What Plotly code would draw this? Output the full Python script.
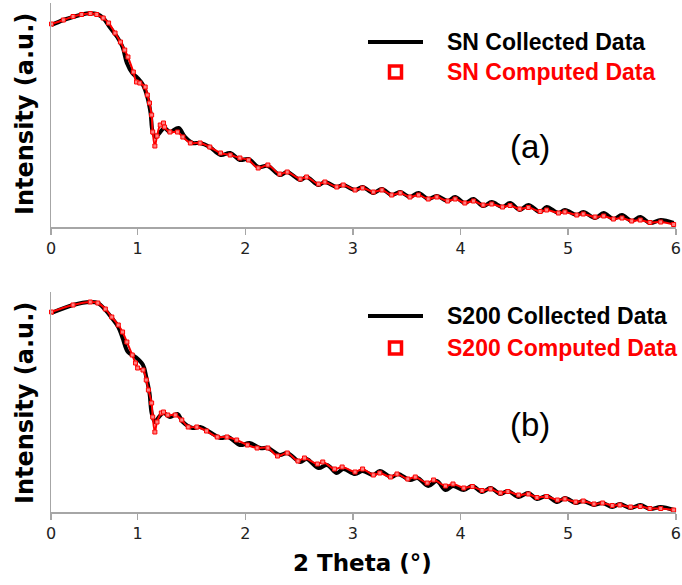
import plotly.graph_objects as go
from plotly.subplots import make_subplots

# ---- panel (a): SN ----
sn_col_x = [0.20, 0.31, 0.40, 0.48, 0.56, 0.62, 0.68, 0.74, 0.81, 0.86, 0.90, 0.95, 1.00, 1.05, 1.09, 1.12,
            1.14, 1.17, 1.21, 1.25, 1.30, 1.38, 1.44, 1.51, 1.58, 1.67, 1.77, 1.86, 1.95, 2.03, 2.12, 2.21,
            2.32, 2.39, 2.51, 2.57, 2.68, 2.74, 2.85, 2.91, 3.02, 3.09, 3.19, 3.27, 3.36, 3.44, 3.53, 3.61,
            3.70, 3.78, 3.88, 3.95, 4.04, 4.12, 4.21, 4.29, 4.39, 4.46, 4.55, 4.63, 4.74, 4.80, 4.91, 4.97,
            5.08, 5.14, 5.25, 5.33, 5.42, 5.50, 5.59, 5.67, 5.76, 5.86, 5.98]
sn_col_y = [202, 207, 210, 212.5, 213.7, 213, 209, 200, 190, 180, 164, 154, 149, 142, 130, 114,
            95, 90, 95, 99, 95, 99, 90, 84, 84, 80, 72, 74, 67, 68, 60, 61,
            52, 55, 47, 50, 42, 45, 40, 42, 37, 40, 34, 38, 32, 35, 30, 34,
            28, 31, 26, 30, 24, 28, 21, 25, 20, 24, 17, 22, 15, 20, 14, 17,
            12, 15, 9, 14, 8, 12, 6, 10, 4, 7, 4]

sn_cmp_x = [0.20, 0.31, 0.40, 0.48, 0.56, 0.62, 0.68, 0.73, 0.79, 0.84, 0.88, 0.91, 0.96, 0.99, 1.02, 1.07,
            1.09, 1.11, 1.13, 1.14, 1.16, 1.18, 1.21, 1.24, 1.25, 1.30, 1.37, 1.42, 1.49, 1.58, 1.67, 1.77,
            1.86, 1.95, 2.03, 2.12, 2.21, 2.32, 2.39, 2.51, 2.57, 2.68, 2.74, 2.85, 2.91, 3.02, 3.09, 3.19,
            3.27, 3.36, 3.44, 3.53, 3.61, 3.70, 3.78, 3.88, 3.95, 4.04, 4.12, 4.21, 4.29, 4.39, 4.46, 4.55,
            4.63, 4.74, 4.80, 4.91, 4.97, 5.08, 5.14, 5.25, 5.33, 5.42, 5.50, 5.59, 5.67, 5.76, 5.86, 5.98]
sn_cmp_y = [203, 207, 210.5, 212.5, 213.5, 212.5, 209, 204, 194, 185, 177, 170, 155, 145, 144, 140,
            132, 124, 112, 95, 81, 91, 102, 104, 100, 95, 95, 90, 84, 84, 80, 74,
            72, 69, 67, 59, 62, 53, 55, 48, 50, 43, 45, 40, 42, 37, 39, 35,
            37, 32, 34, 30, 32, 28, 30, 26, 28, 24, 26, 22, 23, 20, 21.5, 18,
            19.5, 15.5, 17, 14, 15, 12, 13, 10, 11, 8, 9, 6, 7, 4.5, 5, 2.5]

# ---- panel (b): S200 ----
s200_col_x = [0.20, 0.40, 0.56, 0.63, 0.70, 0.76, 0.82, 0.86, 0.91, 0.98, 1.05, 1.08, 1.11, 1.13, 1.16, 1.19,
              1.24, 1.30, 1.37, 1.42, 1.51, 1.58, 1.67, 1.77, 1.84, 1.95, 2.04, 2.14, 2.21, 2.32, 2.39, 2.51,
              2.57, 2.68, 2.76, 2.85, 2.91, 3.02, 3.09, 3.19, 3.25, 3.36, 3.42, 3.53, 3.60, 3.70, 3.78, 3.86,
              3.93, 4.03, 4.11, 4.20, 4.28, 4.37, 4.44, 4.54, 4.63, 4.71, 4.80, 4.90, 4.97, 5.07, 5.14, 5.24,
              5.32, 5.41, 5.48, 5.58, 5.67, 5.76, 5.86, 5.98]
s200_col_y = [199, 207, 210, 209, 202, 194, 185, 174, 160, 155, 147, 135, 119, 99, 90, 94,
              99, 95, 98, 90, 84, 85, 80, 74, 75, 67, 69, 64, 64, 57, 59, 50,
              53, 44, 47, 39, 43, 38, 41, 37, 41, 35, 38, 32, 34, 26, 31, 22,
              26, 22, 26, 20, 24, 18, 21, 15, 19, 13, 16, 10, 14, 9, 11, 7,
              9, 5, 8, 4, 7, 3, 5, 2]

s200_cmp_x = [0.20, 0.40, 0.56, 0.63, 0.70, 0.76, 0.82, 0.86, 0.90, 0.95, 0.98, 1.00, 1.05, 1.08, 1.10, 1.13,
              1.14, 1.16, 1.18, 1.22, 1.24, 1.28, 1.35, 1.41, 1.47, 1.55, 1.64, 1.74, 1.83, 1.92, 2.02, 2.11,
              2.21, 2.30, 2.39, 2.49, 2.55, 2.67, 2.72, 2.83, 2.90, 3.02, 3.09, 3.19, 3.25, 3.35, 3.41, 3.51,
              3.58, 3.69, 3.75, 3.86, 3.93, 4.03, 4.11, 4.20, 4.28, 4.37, 4.44, 4.54, 4.63, 4.71, 4.80, 4.90,
              4.97, 5.07, 5.14, 5.24, 5.32, 5.41, 5.48, 5.58, 5.67, 5.76, 5.86, 5.98]
s200_cmp_y = [200, 207, 210, 209, 203, 195, 187, 180, 170, 157, 149, 144, 142, 132, 122, 109,
              95, 80, 90, 99, 100, 97, 97, 92, 85, 85, 81, 75, 75, 72, 67, 64,
              64, 56, 59, 51, 54, 48, 50, 43, 45, 40, 43, 37, 39, 35, 38, 33,
              35, 29, 32, 26, 28, 24, 25.5, 21.5, 23, 19, 20.5, 17, 18, 14.5, 15.5, 12,
              13, 10, 11, 8, 9, 6.5, 7, 5, 5.5, 3.5, 3.5, 2]

tick_vals = [0.195, 1, 2, 3, 4, 5, 6]
tick_text = ["0", "1", "2", "3", "4", "5", "6"]

BLACK = "#000000"
RED = "#ff0000"
AXIS = "#a6a6a6"
FONT = "Liberation Sans"
WIDE = "DejaVu Sans"

W, H = 682, 585
L, R, T, B = 51, 6, 3, 73
PW, PH = W - L - R, H - T - B

def px(x):
    return (x - L) / PW

def py(y):
    return 1 - (y - T) / PH

fig = make_subplots(rows=2, cols=1, vertical_spacing=0.0)

def add_panel(row, cx, cy, mx, my):
    fig.add_trace(go.Scatter(x=cx, y=cy, mode="lines", line=dict(color=BLACK, width=4, shape="spline"),
                             showlegend=False, hoverinfo="skip", cliponaxis=False), row=row, col=1)
    fig.add_trace(go.Scatter(x=mx, y=my, mode="lines+markers",
                             line=dict(color=RED, width=2, shape="spline"),
                             marker=dict(symbol="square", size=4, color="#ff8080",
                                         line=dict(color=RED, width=1)),
                             showlegend=False, hoverinfo="skip", cliponaxis=False), row=row, col=1)

add_panel(1, sn_col_x, sn_col_y, sn_cmp_x, sn_cmp_y)
add_panel(2, s200_col_x, s200_col_y, s200_cmp_x, s200_cmp_y)

xcommon = dict(range=[0.195, 6.002], tickmode="array", tickvals=tick_vals, ticktext=tick_text,
               showline=True, linecolor=AXIS, linewidth=1.5, ticks="outside", ticklen=6,
               tickcolor=AXIS, tickwidth=1.5, showgrid=False, zeroline=False, automargin=False,
               tickfont=dict(family=WIDE, size=16, color="#222222"))
ycommon = dict(showline=True, linecolor=AXIS, linewidth=1.5, showticklabels=False, ticks="",
               showgrid=False, zeroline=False, automargin=False)

fig.update_layout(
    width=W, height=H,
    margin=dict(l=L, r=R, t=T, b=B, autoexpand=False),
    paper_bgcolor="white", plot_bgcolor="white",
    xaxis=dict(domain=[0, 1], **xcommon),
    xaxis2=dict(domain=[0, 1], **xcommon),
    yaxis=dict(domain=[py(227), 1.0], range=[0, 224], **ycommon),
    yaxis2=dict(domain=[0.0, py(292)], range=[0, 220], **ycommon),
    showlegend=False,
    hovermode=False,
)

ann = []
def legend_block(y_line, y_sq, t1, t2):
    fig.add_shape(type="line", xref="paper", yref="paper", x0=px(368), x1=px(423), y0=py(y_line), y1=py(y_line),
                  line=dict(color=BLACK, width=4))
    fig.add_shape(type="rect", xref="paper", yref="paper", x0=px(389.5), x1=px(401.5),
                  y0=py(y_sq + 6), y1=py(y_sq - 6), line=dict(color=RED, width=3.5), fillcolor="white")
    ann.append(dict(x=px(445), y=py(y_line), xref="paper", yref="paper", xanchor="left", yanchor="middle",
                    text="<b>" + t1 + "</b>", showarrow=False,
                    font=dict(family=FONT, size=23, color=BLACK)))
    ann.append(dict(x=px(445), y=py(y_sq), xref="paper", yref="paper", xanchor="left", yanchor="middle",
                    text="<b>" + t2 + "</b>", showarrow=False,
                    font=dict(family=FONT, size=23, color=RED)))

legend_block(42, 72, "SN Collected Data", "SN Computed Data")
legend_block(316, 348, "S200 Collected Data", "S200 Computed Data")

ann.append(dict(x=px(530), y=py(146), xref="paper", yref="paper", text="(a)", showarrow=False,
                xanchor="center", yanchor="middle", font=dict(family=FONT, size=33, color=BLACK)))
ann.append(dict(x=px(530), y=py(424), xref="paper", yref="paper", text="(b)", showarrow=False,
                xanchor="center", yanchor="middle", font=dict(family=FONT, size=33, color=BLACK)))
ann.append(dict(x=px(25), y=py(114), xref="paper", yref="paper", text="<b>Intensity (a.u.)</b>",
                xanchor="center", yanchor="middle",
                textangle=-90, showarrow=False, font=dict(family=WIDE, size=24, color=BLACK)))
ann.append(dict(x=px(25), y=py(403), xref="paper", yref="paper", text="<b>Intensity (a.u.)</b>",
                xanchor="center", yanchor="middle",
                textangle=-90, showarrow=False, font=dict(family=WIDE, size=24, color=BLACK)))
ann.append(dict(x=px(362), y=py(563), xref="paper", yref="paper", text="<b>2 Theta (°)</b>",
                xanchor="center", yanchor="middle",
                showarrow=False, font=dict(family=WIDE, size=23, color=BLACK)))
fig.update_layout(annotations=ann)

fig.write_html("out.html", config={"displayModeBar": False, "staticPlot": True},
               post_script="document.body.style.margin='0';document.body.style.overflow='hidden';")
